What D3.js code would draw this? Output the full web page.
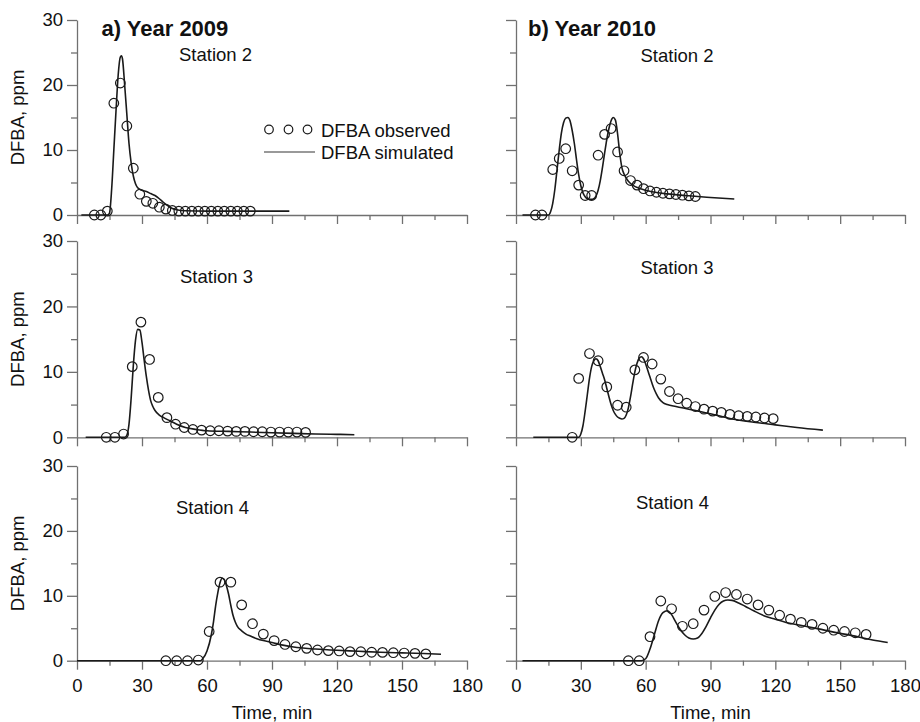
<!DOCTYPE html>
<html>
<head>
<meta charset="utf-8">
<script src="https://cdn.jsdelivr.net/npm/d3@7"></script>
<style>
body { margin: 0; background: #fff; }
text { font-family: "Liberation Sans", Arial, sans-serif; fill: #111; }
.ax .domain, .ax line { stroke: #707070; stroke-width: 1.3; }
</style>
</head>
<body>
<div id="chart"></div>
<script>
// axes
var xTicks = [0, 30, 60, 90, 120, 150, 180];
var xMinor = [15, 45, 75, 105, 135, 165];
var yTicks = [0, 10, 20, 30];
var yMinor = [5, 15, 25];
var yearTitles = ["a) Year 2009", "b) Year 2010"];
var stations = ["Station 2", "Station 3", "Station 4"];
var legendLabels = ["DFBA observed", "DFBA simulated"];

// 2009, station 2
var obs09s2T = [8, 11, 14, 17, 20, 23, 26, 29, 32, 35, 38, 41, 44, 47, 50, 53, 56, 59, 62, 65, 68, 71, 74, 77, 80];
var obs09s2V = [0, 0, 0.6, 17.2, 20.3, 13.7, 7.2, 3.2, 2.1, 1.8, 1.2, 0.9, 0.7, 0.6, 0.6, 0.6, 0.6, 0.6, 0.6, 0.6, 0.6, 0.6, 0.6, 0.6, 0.6];
var sim09s2T = [2, 14, 15, 16, 17, 18, 19, 20, 20.5, 21, 22, 23, 24, 25, 26, 27, 28, 30, 32, 34, 36, 38, 40, 42, 44, 46, 50, 60, 80, 98];
var sim09s2V = [0, 0, 0.3, 4, 10, 16, 21.5, 24.3, 24.5, 24, 20, 15.5, 11, 8, 6, 4.8, 4.2, 3.8, 3.6, 3.3, 3.0, 2.5, 1.9, 1.4, 1.0, 0.8, 0.65, 0.6, 0.6, 0.6];

// 2009, station 3
var obs09s3T = [13.5, 17.5, 21.5, 25.5, 29.5, 33.5, 37.5, 41.5, 45.5, 49.5, 53.5, 57.5, 61.5, 65.5, 69.5, 73.5, 77.5, 81.5, 85.5, 89.5, 93.5, 97.5, 101.5, 105.5];
var obs09s3V = [0, 0, 0.5, 10.8, 17.6, 11.9, 6.1, 3.0, 2.0, 1.5, 1.2, 1.1, 1.0, 1.0, 0.95, 0.9, 0.9, 0.85, 0.85, 0.8, 0.8, 0.8, 0.8, 0.75];
var sim09s3T = [4, 22, 23, 24, 25, 26, 27, 28, 29, 30, 31, 32, 33, 34, 35, 36, 38, 40, 43, 46, 50, 55, 60, 70, 80, 90, 100, 110, 120, 128];
var sim09s3V = [0, 0, 0.3, 2, 6, 11, 14.8, 16.5, 16.4, 14.5, 11.8, 9.3, 7.2, 5.6, 4.7, 4.1, 3.4, 3.0, 2.5, 2.0, 1.5, 1.2, 1.0, 0.9, 0.8, 0.7, 0.6, 0.5, 0.45, 0.4];

// 2009, station 4
var obs09s4T = [41, 46, 51, 56, 61, 66, 71, 76, 81, 86, 91, 96, 101, 106, 111, 116, 121, 126, 131, 136, 141, 146, 151, 156, 161];
var obs09s4V = [0, 0, 0, 0.1, 4.5, 12.1, 12.1, 8.6, 5.7, 4.1, 3.1, 2.5, 2.15, 1.9, 1.65, 1.55, 1.5, 1.4, 1.38, 1.3, 1.28, 1.23, 1.18, 1.13, 1.05];
var sim09s4T = [0, 57, 58, 60, 62, 63, 64, 65, 66, 67, 68, 69, 70, 71, 72, 73, 74, 76, 78, 80, 83, 86, 90, 95, 100, 110, 120, 130, 140, 150, 160, 168];
var sim09s4V = [0, 0, 0.3, 1.5, 4, 6, 8.5, 10.5, 12, 12.7, 12.5, 11.5, 10.2, 8.5, 7, 6, 5.3, 4.6, 4.1, 3.8, 3.4, 3.1, 2.8, 2.4, 2.1, 1.8, 1.6, 1.45, 1.3, 1.2, 1.1, 1.0];

// 2010, station 2
var obs10s2T = [9, 12, 17, 20, 23, 26, 29, 32, 35, 38, 41, 44, 47, 50, 53, 56, 59, 62, 65, 68, 71, 74, 77, 80, 83];
var obs10s2V = [0, 0, 7.0, 8.7, 10.2, 6.8, 4.6, 3.0, 3.0, 9.2, 12.4, 13.3, 9.7, 6.8, 5.3, 4.6, 4.05, 3.7, 3.5, 3.35, 3.25, 3.15, 3.05, 2.95, 2.85];
var sim10s2T = [3, 15, 16, 17, 18, 19, 20, 21, 22, 23, 24, 25, 26, 27, 28, 29, 30, 31, 32, 33, 34, 35, 36, 37, 38, 39, 40, 41, 42, 43, 44, 45, 46, 47, 48, 49, 50, 52, 54, 57, 60, 65, 70, 80, 90, 101];
var sim10s2V = [0, 0, 0.5, 1.8, 4, 7, 10, 12.6, 14.2, 14.9, 15, 14.5, 13, 11, 8.5, 6.2, 4.5, 3.4, 2.8, 2.5, 2.4, 2.4, 2.5, 2.9, 3.8, 5.3, 7.3, 9.5, 11.6, 13.3, 14.5, 15, 14.6, 12.5, 9.5, 7.3, 6.3, 5.2, 4.6, 4.1, 3.8, 3.45, 3.25, 2.95, 2.7, 2.45];

// 2010, station 3
var obs10s3T = [26, 29, 34, 38, 42, 47, 51, 55, 59, 63, 67, 71, 75, 79, 83, 87, 91, 95, 99, 103, 107, 111, 115, 119];
var obs10s3V = [0, 9.0, 12.8, 11.7, 7.7, 4.9, 4.6, 10.3, 12.2, 11.2, 8.9, 7.0, 5.9, 5.2, 4.7, 4.3, 4.0, 3.8, 3.5, 3.3, 3.2, 3.1, 2.95, 2.85];
var sim10s3T = [8, 29, 30, 31, 32, 33, 34, 35, 36, 37, 38, 39, 40, 41, 42, 43, 44, 45, 46, 47, 48, 49, 50, 51, 52, 53, 54, 55, 56, 57, 58, 59, 60, 61, 62, 63, 64, 65, 66, 68, 70, 74, 80, 85, 90, 100, 110, 120, 130, 142];
var sim10s3V = [0, 0, 0.5, 1.8, 4, 6.5, 9, 10.8, 11.7, 12, 11.7, 10.8, 9.8, 8.8, 7.5, 6.2, 5.0, 4.1, 3.5, 3.1, 2.9, 2.8, 2.9, 3.4, 4.5, 6.2, 8.2, 10, 11.3, 12.1, 12.3, 12, 11.2, 10.2, 9.2, 8.2, 7.3, 6.6, 6.0, 5.3, 5.0, 4.7, 4.3, 3.95, 3.6, 2.8, 2.3, 1.9, 1.5, 1.1];

// 2010, station 4
var obs10s4T = [52, 57, 62, 67, 72, 77, 82, 87, 92, 97, 102, 107, 112, 117, 122, 127, 132, 137, 142, 147, 152, 157, 162];
var obs10s4V = [0, 0, 3.7, 9.2, 8.0, 5.3, 5.7, 7.8, 9.9, 10.5, 10.2, 9.5, 8.6, 7.8, 7.0, 6.4, 5.9, 5.6, 5.0, 4.7, 4.5, 4.3, 4.05];
var sim10s4T = [3, 58, 60, 62, 64, 66, 68, 70, 72, 74, 76, 78, 80, 82, 84, 86, 88, 90, 92, 94, 96, 98, 100, 103, 106, 110, 115, 120, 125, 131, 140, 147, 155, 165, 172];
var sim10s4V = [0, 0, 0.3, 1.8, 4, 6.2, 7.4, 7.7, 7.1, 5.9, 4.8, 4.0, 3.5, 3.35, 3.5, 4.2, 5.3, 6.6, 7.8, 8.7, 9.2, 9.35, 9.3, 8.9, 8.4, 7.7, 6.9, 6.4, 5.9, 5.5, 4.9, 4.4, 3.9, 3.2, 2.8];

var W = 920, H = 722;
var colRange = [[77, 467], [516, 905]];
var rowRange = [[215, 20], [437.3, 241], [660.7, 466]];
var stationPos = [
  [[179, 61], [640.5, 61.5]],
  [[180, 282.5], [640.5, 274]],
  [[176, 514], [636, 509]]
];

var zip = function(t, v) { return t.map(function(d, i) { return [d, v[i]]; }); };

var panels = [
  {col: 0, row: 0, obs: zip(obs09s2T, obs09s2V), sim: zip(sim09s2T, sim09s2V)},
  {col: 0, row: 1, obs: zip(obs09s3T, obs09s3V), sim: zip(sim09s3T, sim09s3V)},
  {col: 0, row: 2, obs: zip(obs09s4T, obs09s4V), sim: zip(sim09s4T, sim09s4V)},
  {col: 1, row: 0, obs: zip(obs10s2T, obs10s2V), sim: zip(sim10s2T, sim10s2V)},
  {col: 1, row: 1, obs: zip(obs10s3T, obs10s3V), sim: zip(sim10s3T, sim10s3V)},
  {col: 1, row: 2, obs: zip(obs10s4T, obs10s4V), sim: zip(sim10s4T, sim10s4V)}
];

var svg = d3.select("#chart").append("svg")
  .attr("width", W)
  .attr("height", H);

var fs = "18.5px";

panels.forEach(function(p) {
  var x = d3.scaleLinear().domain([0, 180]).range(colRange[p.col]);
  var y = d3.scaleLinear().domain([0, 30]).range(rowRange[p.row]);
  var g = svg.append("g");
  var bottom = p.row == 2;

  // x axis, minor then major ticks
  g.append("g").attr("class", "ax")
    .attr("transform", "translate(0," + y(0) + ")")
    .call(d3.axisBottom(x).tickValues(xMinor).tickSize(5).tickFormat(""))
    .call(function(s) { s.select(".domain").remove(); });
  g.append("g").attr("class", "ax")
    .attr("transform", "translate(0," + y(0) + ")")
    .call(d3.axisBottom(x).tickValues(xTicks).tickSize(9).tickSizeOuter(0).tickPadding(9)
      .tickFormat(bottom ? d3.format("d") : ""))
    .selectAll("text").style("font-size", fs);

  // y axis
  g.append("g").attr("class", "ax")
    .attr("transform", "translate(" + x(0) + ",0)")
    .call(d3.axisLeft(y).tickValues(yMinor).tickSize(6).tickFormat(""))
    .call(function(s) { s.select(".domain").remove(); });
  g.append("g").attr("class", "ax")
    .attr("transform", "translate(" + x(0) + ",0)")
    .call(d3.axisLeft(y).tickValues(yTicks).tickSize(10).tickSizeOuter(0).tickPadding(4)
      .tickFormat(p.col == 0 ? d3.format("d") : ""))
    .selectAll("text").style("font-size", fs);

  var line = d3.line()
    .x(function(d) { return x(d[0]); })
    .y(function(d) { return y(d[1]); })
    .curve(d3.curveMonotoneX);

  g.append("path")
    .datum(p.sim)
    .attr("d", line)
    .attr("fill", "none")
    .attr("stroke", "#1a1a1a")
    .attr("stroke-width", 1.6);

  g.selectAll("circle.obs").data(p.obs).enter().append("circle")
    .attr("class", "obs")
    .attr("cx", function(d) { return x(d[0]); })
    .attr("cy", function(d) { return y(d[1]); })
    .attr("r", 4.8)
    .attr("fill", "none")
    .attr("stroke", "#1a1a1a")
    .attr("stroke-width", 1.2);

  var sp = stationPos[p.row][p.col];
  g.append("text").attr("x", sp[0]).attr("y", sp[1])
    .style("font-size", fs).text(stations[p.row]);

  if (p.col == 0) {
    var cy = (rowRange[p.row][0] + rowRange[p.row][1]) / 2;
    g.append("text")
      .attr("transform", "translate(24," + cy + ") rotate(-90)")
      .attr("text-anchor", "middle")
      .style("font-size", fs)
      .text("DFBA, ppm");
  }
  if (bottom) {
    g.append("text")
      .attr("x", (colRange[p.col][0] + colRange[p.col][1]) / 2)
      .attr("y", 719)
      .attr("text-anchor", "middle")
      .style("font-size", fs)
      .text("Time, min");
  }
});

// year titles
svg.selectAll("text.title").data(yearTitles).enter().append("text")
  .attr("class", "title")
  .attr("x", function(d, i) { return i == 0 ? 101.5 : 528; })
  .attr("y", 35.5)
  .style("font-size", "22px")
  .style("font-weight", "bold")
  .text(function(d) { return d; });

// legend
var lg = svg.append("g");
lg.selectAll("circle").data([269, 288.5, 307.5]).enter().append("circle")
  .attr("cx", function(d) { return d; })
  .attr("cy", 129.5)
  .attr("r", 4.3)
  .attr("fill", "none")
  .attr("stroke", "#1a1a1a")
  .attr("stroke-width", 1.2);
lg.append("line")
  .attr("x1", 264).attr("x2", 315)
  .attr("y1", 152).attr("y2", 152)
  .attr("stroke", "#777")
  .attr("stroke-width", 1.5);
lg.selectAll("text").data(legendLabels).enter().append("text")
  .attr("x", 321)
  .attr("y", function(d, i) { return i == 0 ? 136.5 : 158.5; })
  .style("font-size", fs)
  .text(function(d) { return d; });
</script>
</body>
</html>
